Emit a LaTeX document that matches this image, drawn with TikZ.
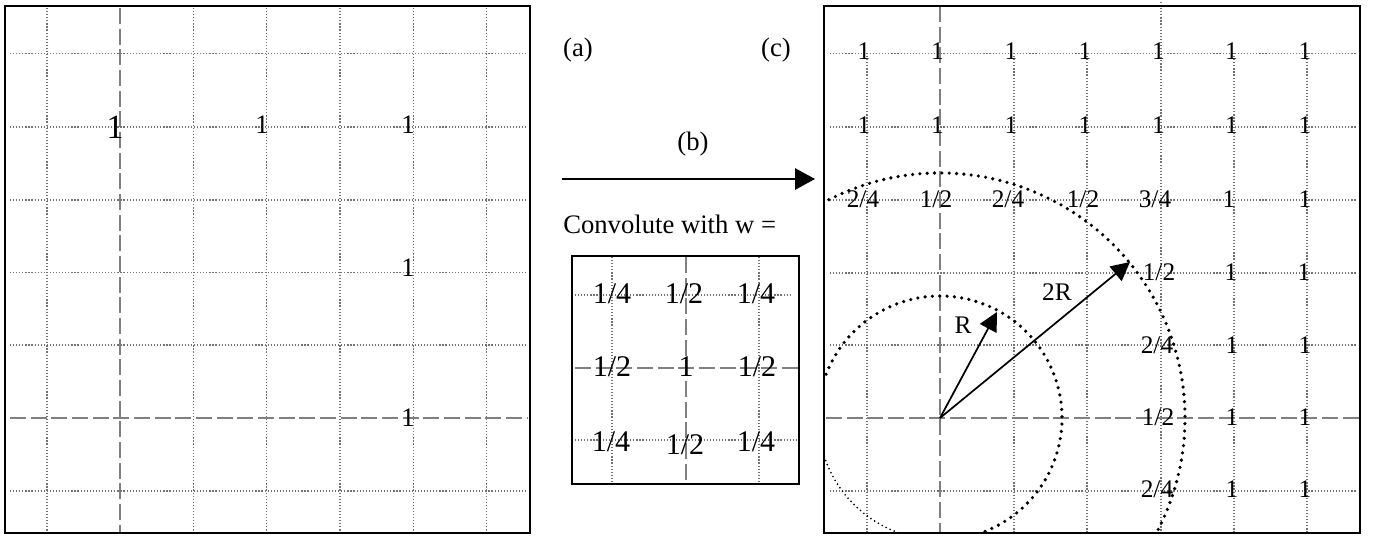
\documentclass[tikz,border=0pt]{standalone}
\usepackage{fontspec}
\setmainfont{Liberation Serif}
\usetikzlibrary{arrows.meta}
\begin{document}
\begin{tikzpicture}[x=0.75pt,y=-0.75pt,
 frame/.style={draw=black,line width=1.5pt},
 gdot/.style={draw=gray!90!black,line width=0.9pt,dash pattern=on 0.9pt off 1.4pt},
 gdash/.style={draw=gray,line width=1.5pt,dash pattern=on 12pt off 3.5pt},
 lab/.style={inner sep=0pt,anchor=base,font=\fontsize{20}{24}\selectfont},
 rlab/.style={inner sep=0pt,anchor=base,font=\fontsize{19}{22}\selectfont},
 klab/.style={inner sep=0pt,anchor=base,font=\fontsize{22.5}{26}\selectfont},
 biglab/.style={inner sep=0pt,anchor=base,font=\fontsize{25.5}{30}\selectfont},
 bigdots/.style={line width=2.7pt,dash pattern=on 0pt off 5.5pt,line cap=round},
 smalldots/.style={line width=1.4pt,dash pattern=on 0pt off 3.3pt,line cap=round},
 arr/.style={line width=1.3pt,-{Triangle[length=14pt,width=14pt]}},
 barr/.style={line width=1.4pt,-{Triangle[length=15pt,width=16pt]}}]
\useasboundingbox (0,0) rectangle (1380,535);

% ---------- left panel (a) ----------
\foreach \x in {47,193.3,266.7,340,413.3,486.7} \draw[gdot] (\x,8) -- (\x,533);
\foreach \y in {53.5,127,200,272.5,345,491} \draw[gdot] (10,\y) -- (527,\y);
\draw[gdash] (120,8) -- (120,533);
\draw[gdash] (10,418) -- (528,418);
\draw[frame] (5,6) rectangle (530,533);
\node[biglab] (a11) at (115,138) {1};
\node[lab] (a12) at (262,133) {1};
\node[lab] (a13) at (408,133) {1};
\node[lab] (a23) at (408,276) {1};
\node[lab] (a33) at (408,426) {1};

% ---------- middle ----------
\node[lab] (la) at (578,56) {(a)};
\node[lab] (lc) at (776,56) {(c)};
\node[lab] (lb) at (693,150) {(b)};
\coordinate (bs) at (562,179);
\coordinate (be) at (815,179);
\draw[barr] (bs) -- (be);
\node[lab,anchor=base west] (conv) at (563,233) {Convolute with w =};

% kernel box
\draw[gdot] (612,257) -- (612,483);
\draw[gdot] (759,257) -- (759,483);
\draw[gdash] (686,257) -- (686,483);
\draw[gdot] (575,295) -- (790,295);
\draw[gdash] (575,368) -- (799,368);
\draw[gdot] (575,440) -- (799,440);
\draw[frame] (572,256) rectangle (799,484);
\node[klab] (k11) at (612,303) {1/4};
\node[klab] (k12) at (684,303) {1/2};
\node[klab] (k13) at (756,303) {1/4};
\node[klab] (k21) at (612,376) {1/2};
\node[klab] (k22) at (686,376) {1};
\node[klab] (k23) at (757,376) {1/2};
\node[klab] (k31) at (611,451) {1/4};
\node[klab] (k32) at (685,454) {1/2};
\node[klab] (k33) at (756,451) {1/4};

% ---------- right panel (c) ----------
\foreach \x in {867,1014,1087,1234,1307} \draw[gdot] (\x,53) -- (\x,533);
\draw[gdot] (1161,2) -- (1161,533);
\foreach \y in {53.5,127,200,273,345,491} \draw[gdot] (830,\y) -- (1357,\y);
\draw[gdash] (940,6) -- (940,533);
\draw[gdash] (826,418) -- (1360,418);
\draw[frame] (824,6) rectangle (1360,533);

\foreach \x [count=\i] in {864,937.5,1011,1085,1158.5,1231.5,1305} {
  \node[rlab] (r1c\i) at (\x,60) {1};
  \node[rlab] (r2c\i) at (\x,133) {1};
}
\node[rlab] (r3c1) at (863,207) {2/4};
\node[rlab] (r3c2) at (936,207) {1/2};
\node[rlab] (r3c3) at (1008,207) {2/4};
\node[rlab] (r3c4) at (1083,207) {1/2};
\node[rlab] (r3c5) at (1155,207) {3/4};
\node[rlab] (r3c6) at (1229,207) {1};
\node[rlab] (r3c7) at (1305,207) {1};
\node[rlab] (r4c5) at (1159,280) {1/2};
\node[rlab] (r4c6) at (1231,280) {1};
\node[rlab] (r4c7) at (1304,280) {1};
\node[rlab] (r5c5) at (1157,353) {2/4};
\node[rlab] (r5c6) at (1232,353) {1};
\node[rlab] (r5c7) at (1305,353) {1};
\node[rlab] (r6c5) at (1158,425) {1/2};
\node[rlab] (r6c6) at (1232,425) {1};
\node[rlab] (r6c7) at (1305,425) {1};
\node[rlab] (r7c5) at (1157,497) {2/4};
\node[rlab] (r7c6) at (1232,497) {1};
\node[rlab] (r7c7) at (1305,497) {1};

% circles (y axis points down: tikz angle = - visual angle)
\coordinate (O) at (940,418);
\draw[bigdots] (O) ++(-159:122) arc[start angle=-159,end angle=70,radius=122];
\draw[smalldots] (O) ++(110:122) arc[start angle=110,end angle=162,radius=122];
\draw[bigdots] (O) ++(-117:245) arc[start angle=-117,end angle=28,radius=245];

% radius arrows
\coordinate (Rt) at (997,312);
\coordinate (R2t) at (1130,262);
\draw[arr] (O) -- (Rt);
\draw[arr] (O) -- (R2t);
\node[rlab] (lR) at (963,333) {R};
\node[rlab] (l2R) at (1057,300) {2R};
\end{tikzpicture}
\end{document}
